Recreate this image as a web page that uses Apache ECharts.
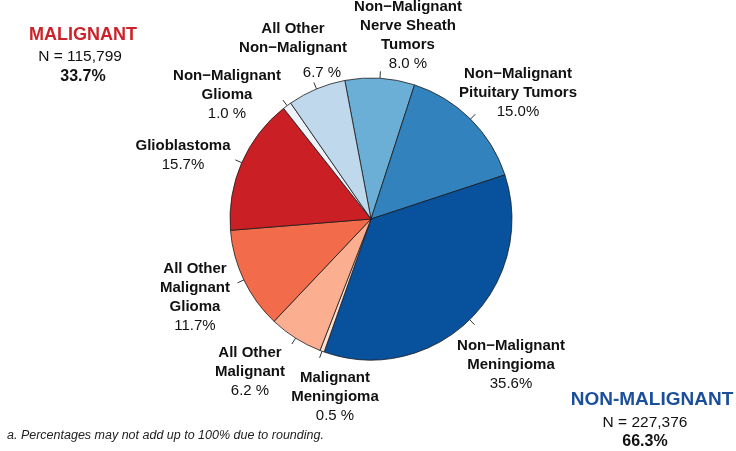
<!DOCTYPE html>
<html>
<head>
<meta charset="utf-8">
<script src="https://cdn.jsdelivr.net/npm/echarts@6/dist/echarts.min.js"></script>
<style>
  html, body { margin: 0; padding: 0; background: #fff; }
  #main { width: 736px; height: 451px; }
</style>
</head>
<body>
<div id="main"></div>
<script>
// slices, clockwise from the top
var sliceNames = ['Non−Malignant\nNerve Sheath\nTumors', 'Non−Malignant\nPituitary Tumors', 'Non−Malignant\nMeningioma',
  'Malignant\nMeningioma', 'All Other\nMalignant', 'All Other\nMalignant\nGlioma', 'Glioblastoma',
  'Non−Malignant\nGlioma', 'All Other\nNon−Malignant'];
var sliceValues = [8.0, 15.0, 35.6, 0.5, 6.2, 11.7, 15.7, 1.0, 6.7];
var sliceLabels = ['8.0 %', '15.0%', '35.6%', '0.5 %', '6.2 %', '11.7%', '15.7%', '1.0 %', '6.7 %'];
var sliceColors = ['#6baed6', '#3182bd', '#08519c', '#fde0d2', '#fcae91', '#f26b4b', '#cb1f26', '#eef3fb', '#c0d8ec'];

// group totals
var groupNames = ['MALIGNANT', 'NON-MALIGNANT'];
var groupCounts = ['N = 115,799', 'N = 227,376'];
var groupShares = ['33.7%', '66.3%'];
var footnote = 'a. Percentages may not add up to 100% due to rounding.';

// where each slice label sits (block centre)
var labelPos = [[408, 35], [518, 93], [511, 365], [335, 397], [250, 372], [195, 297], [183, 155], [227, 95], [293, 54]];

var FONT = '"Liberation Sans", Arial, sans-serif';
var baseRich = {
  n: { fontSize: 15, fontWeight: 'bold', lineHeight: 19, color: '#111', fontFamily: FONT, align: 'center' },
  p: { fontSize: 15, lineHeight: 19, color: '#111', fontFamily: FONT, align: 'center' }
};

var pieData = sliceValues.map(function (v, i) {
  var item = { value: v, name: sliceNames[i], itemStyle: { color: sliceColors[i] } };
  if (i === 8) {
    // percent of this one sits lower and to the right
    item.label = {
      rich: {
        n: baseRich.n,
        p: { fontSize: 15, lineHeight: 31, color: '#111', fontFamily: FONT, align: 'center', padding: [0, 0, 0, 58] }
      }
    };
  }
  return item;
});

var tickData = sliceValues.map(function (v, i) {
  return { value: v, name: sliceNames[i] };
});

var chart = echarts.init(document.getElementById('main'), null, { renderer: 'canvas' });

var option = {
  animation: false,
  backgroundColor: '#fff',
  series: [{
    type: 'pie',
    center: [371, 219],
    radius: 141,
    startAngle: 100.7,
    clockwise: true,
    avoidLabelOverlap: false,
    itemStyle: { borderColor: '#1a1a1a', borderWidth: 0.8 },
    emphasis: { disabled: true },
    label: {
      show: true,
      position: 'outside',
      fontFamily: FONT,
      fontSize: 15,
      color: '#111',
      formatter: function (p) {
        return '{n|' + p.name + '}\n{p|' + sliceLabels[p.dataIndex] + '}';
      },
      rich: baseRich
    },
    labelLine: { show: false },
    labelLayout: function (params) {
      var pos = labelPos[params.dataIndex];
      return { x: pos[0], y: pos[1], align: 'center', verticalAlign: 'middle' };
    },
    data: pieData
  }, {
    // short ticks at each slice's middle
    type: 'pie',
    center: [371, 219],
    radius: 141,
    startAngle: 100.7,
    clockwise: true,
    silent: true,
    avoidLabelOverlap: false,
    itemStyle: { color: 'rgba(0,0,0,0)', borderWidth: 0 },
    label: { show: true, position: 'outside', formatter: ' ', fontSize: 1 },
    labelLine: { show: true, length: 7, length2: 0, lineStyle: { color: '#333', width: 1 } },
    data: tickData
  }],
  graphic: [
    { type: 'text', x: 83, y: 35, style: { text: groupNames[0], fill: '#cc2229', fontSize: 18, fontWeight: 'bold', fontFamily: FONT, align: 'center', verticalAlign: 'middle' } },
    { type: 'text', x: 80, y: 57, style: { text: groupCounts[0], fill: '#111', fontSize: 15.5, fontFamily: FONT, align: 'center', verticalAlign: 'middle' } },
    { type: 'text', x: 83, y: 77, style: { text: groupShares[0], fill: '#111', fontSize: 16, fontWeight: 'bold', fontFamily: FONT, align: 'center', verticalAlign: 'middle' } },
    { type: 'text', x: 652, y: 400, style: { text: groupNames[1], fill: '#1b4f9c', fontSize: 19, fontWeight: 'bold', fontFamily: FONT, align: 'center', verticalAlign: 'middle' } },
    { type: 'text', x: 645, y: 423, style: { text: groupCounts[1], fill: '#111', fontSize: 15.5, fontFamily: FONT, align: 'center', verticalAlign: 'middle' } },
    { type: 'text', x: 645, y: 442, style: { text: groupShares[1], fill: '#111', fontSize: 16, fontWeight: 'bold', fontFamily: FONT, align: 'center', verticalAlign: 'middle' } },
    { type: 'text', x: 7, y: 436, style: { text: footnote, fill: '#222', fontSize: 12.5, fontStyle: 'italic', fontFamily: FONT, align: 'left', verticalAlign: 'middle' } }
  ]
};

chart.setOption(option);
</script>
</body>
</html>
